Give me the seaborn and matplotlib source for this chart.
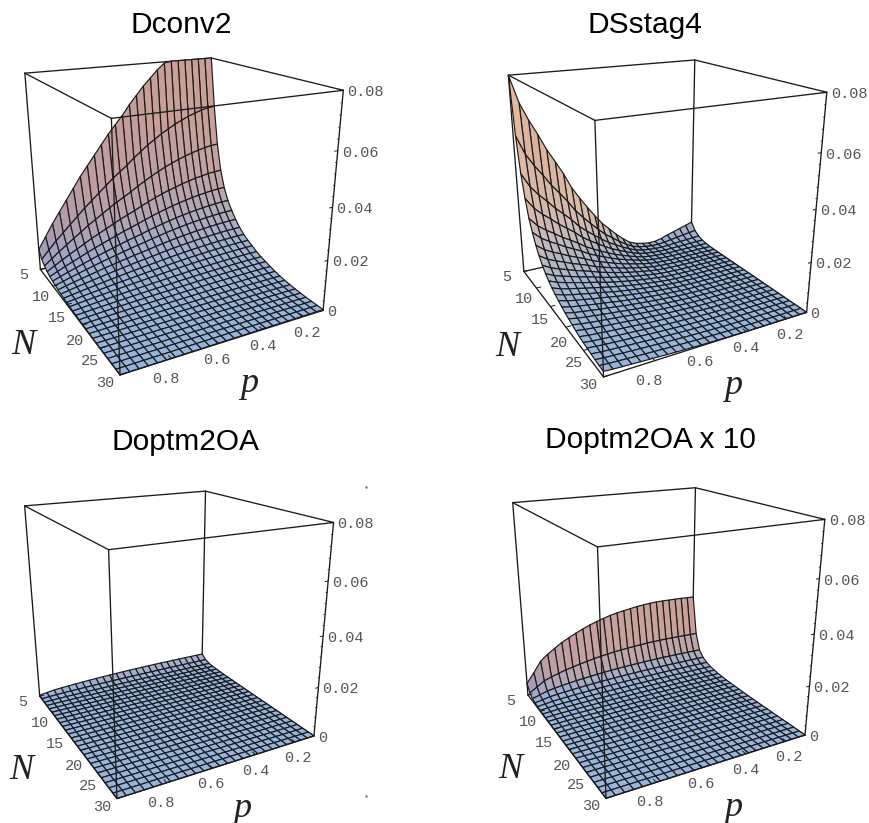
import numpy as np
import matplotlib
matplotlib.use("Agg")
import matplotlib.pyplot as plt
import seaborn as sns
from matplotlib.lines import Line2D
from mpl_toolkits.mplot3d import proj3d

W_PX, H_PX = 869, 823
ELEV, AZIM = 20, 61.6
ZMAX = 0.08

n_values = np.arange(5, 31)
p_values = np.linspace(1.0, 0.1, 26)   # from the front corner to the right corner
z_ticks = [0, 0.02, 0.04, 0.06, 0.08]
z_minor = [.004, .008, .012, .016, .024, .028, .032, .036, .044, .048, .052, .056, .064, .068, .072, .076]
z_tick_labels = ["0", "0.02", "0.04", "0.06", "0.08"]
p_ticks = [0.8, 0.6, 0.4, 0.2]
n_ticks = [5, 10, 15, 20, 25, 30]
# label nudges in pixels (x, y up)
p_nudge = [(-6, -20), (-2, -16), (0, -16), (3, -16)]
n_nudge = [(-17, -6), (-12, -11), (-10, -14), (-7, -16), (-10, -13), (-15, -8)]

# heights read along the N=5 edge (p = 1 .. 0.1)
dconv_at_n5 = [.009, .014, .019, .0235, .028, .0325, .037, .041, .045, .049, .053, .0565, .060,
               .064, .0675, .071, .074, .077, .0795, .082, .084, .086, .0875, .089, .09, .0905]
# heights read along the p=0.1 edge (N = 5 .. 30)
dconv_at_pmin = [.0905, .06, .044, .033, .026, .021, .0175, .0145, .012, .010, .0085, .0073, .006,
                 .005, .0042, .0034, .0027, .0021, .0017, .0013, .001, .0008, .0006, .0005, .0004, .0003]

dsstag_at_n5 = [.08, .0695, .0625, .0565, .050, .0446, .039, .0325, .0275, .0229, .0185, .0144, .0112,
                .008, .0052, .0028, .0015, .0008, .0003, 0, 0, 0, 0, 0, 0, 0]
dsstag_at_p1 = [.08, .058, .044, .035, .028, .0235, .0195, .0165, .014, .012, .0105, .0092, .0081,
                .0072, .0063, .0056, .005, .0044, .0039, .0034, .003, .0028, .0025, .0023, .0021, .002]
dsstag_bump_at_n5 = [0, 0, 0, 0, 0, 0, 0, 0, 0, 0, 0, 0, 0, 0, 0, 0, 0, 0, 0,
                     .0004, .0011, .0022, .0031, .0041, .005, .006]
dsstag_bump_at_pmin = [.006, .003, .0015, .0007, .0003, .0001, 0, 0, 0, 0, 0, 0, 0, 0, 0, 0, 0, 0, 0,
                       0, 0, 0, 0, 0, 0, 0]

doptm10_at_n5 = [.0053, .0095, .014, .0165, .0185, .0205, .022, .0235, .0248, .026, .027, .0279, .0287,
                 .0293, .0298, .0302, .0306, .0309, .0311, .0312, .0312, .0311, .031, .0309, .0307, .0306]
doptm10_at_pmin = [.0306, .0138, .0067, .0042, .0029, .0021, .0016, .0012, .001, .0008, .0007, .0006, .0005,
                   .0004, .00035, .0003, .00026, .00023, .0002, .00018, .00016, .00014, .00012, .0001, .00009, .00008]


def edges_to_grid(along_p, along_n):
    along_p = np.array(along_p)
    along_n = np.array(along_n)
    return np.outer(along_n, along_p) / along_n[0]


dconv = edges_to_grid(dconv_at_n5, np.array(dconv_at_pmin))
dsstag = edges_to_grid(dsstag_at_n5, dsstag_at_p1) + edges_to_grid(dsstag_bump_at_n5, dsstag_bump_at_pmin)
doptm10 = edges_to_grid(doptm10_at_n5, doptm10_at_pmin)
doptm = doptm10 / 10

panels = [
    dict(title="Dconv2", z=dconv, cx=168, cy=196, scale=1.0, tx=181, ty=25),
    dict(title="DSstag4", z=dsstag, cx=651.5, cy=198, scale=1.0, tx=645, ty=25),
    dict(title="Doptm2OA", z=doptm, cx=163.5, cy=625, scale=0.97, tx=185, ty=442),
    dict(title="Doptm2OA x 10", z=doptm10, cx=653, cy=623, scale=0.98, tx=650, ty=440),
]

sns.set_theme(style="white")
plt.rcParams["font.family"] = ["Liberation Sans", "DejaVu Sans"]

LINE = "#1a1a1a"
TICK_TEXT = "#555555"

# face colours: flat floor, steep faces by the way they lean
FLAT = np.array([150, 180, 220]) / 255
ROSY = np.array([203, 160, 150]) / 255
PEACH = np.array([232, 190, 160]) / 255
MAUVE = np.array([175, 145, 165]) / 255


def lit_colors(z):
    zn = np.clip(z, 0, ZMAX) / ZMAX
    dz_dn = (np.diff(zn, axis=0)[:, :-1] + np.diff(zn, axis=0)[:, 1:]) / 2 / (1 / 25)
    dz_dp = -(np.diff(zn, axis=1)[:-1, :] + np.diff(zn, axis=1)[1:, :]) / 2 / (1 / 25)
    n = np.dstack([-dz_dp, -dz_dn, np.ones_like(dz_dp)])
    n /= np.linalg.norm(n, axis=2, keepdims=True)
    lean = n[..., 0] / np.maximum(np.hypot(n[..., 0], n[..., 1]), 1e-6)
    to_peach = np.clip(-2 * lean, 0, 1)[..., None]
    to_mauve = np.clip(1.5 * lean, 0, 1)[..., None]
    steep = ROSY + to_peach * (PEACH - ROSY) + to_mauve * (MAUVE - ROSY)
    tilt = ((1 - n[..., 2]) ** 0.7)[..., None] * 1.1
    return np.clip(FLAT + np.minimum(tilt, 1) * (steep - FLAT), 0, 1)


def label3d(ax, x, y, z, text, dx, dy, **kw):
    px, py, _ = proj3d.proj_transform(x, y, z, ax.get_proj())
    ax.annotate(text, (px, py), xytext=(dx * 0.72, dy * 0.72), textcoords="offset points",
                xycoords="data", annotation_clip=False, **kw)


fig = plt.figure(figsize=(W_PX / 100, H_PX / 100), dpi=100, facecolor="white")

for panel in panels:
    size = 370 * panel["scale"]
    ax = fig.add_axes([(panel["cx"] - size / 2) / W_PX, 1 - (panel["cy"] + size / 2) / H_PX,
                       size / W_PX, size / H_PX], projection="3d", computed_zorder=False)
    ax.patch.set_alpha(0)
    ax.set_box_aspect((1, 1, 1))
    ax.set_proj_type("persp", focal_length=0.319)
    ax.view_init(elev=ELEV, azim=AZIM)
    ax.set_xlim(0.1, 1)
    ax.set_ylim(5, 30)
    ax.set_zlim(0, ZMAX)
    ax.set_axis_off()

    P, N = np.meshgrid(p_values, n_values)
    Z = np.minimum(panel["z"], ZMAX)
    ax.plot_surface(P, N, Z, facecolors=lit_colors(panel["z"]), rstride=1, cstride=1, shade=False,
                    linewidth=0.85, edgecolor=LINE, antialiased=True, zorder=2)

    # the box: back edges go under the surface
    for xs, ys, zs, order in [
        ([.1, .1], [5, 5], [0, ZMAX], 1),
        ([1, .1], [5, 5], [0, 0], 1),
        ([.1, .1], [5, 30], [0, 0], 1),
        ([1, .1], [5, 5], [ZMAX, ZMAX], 1),
        ([.1, .1], [5, 30], [ZMAX, ZMAX], 1),
        ([1, 1], [5, 5], [0, ZMAX], 3),
        ([.1, .1], [30, 30], [0, ZMAX], 3),
        ([1, 1], [30, 30], [0, ZMAX], 3),
        ([1, 1], [5, 30], [0, 0], 3),
        ([1, .1], [30, 30], [0, 0], 3),
        ([1, 1], [5, 30], [ZMAX, ZMAX], 3),
        ([1, .1], [30, 30], [ZMAX, ZMAX], 3),
    ]:
        ax.plot(xs, ys, zs, color=LINE, lw=0.95, zorder=order, solid_capstyle="round")

    for t in z_ticks:
        ax.plot([.1, .115], [30, 30], [t, t], color=LINE, lw=0.7, zorder=3)
    for t in z_minor:
        ax.plot([.1, .107], [30, 30], [t, t], color=LINE, lw=0.5, zorder=3)
    for t in p_ticks:
        ax.plot([t, t], [30, 29.4], [0, 0], color=LINE, lw=0.7, zorder=3)
    for t in n_ticks:
        ax.plot([1, .98], [t, t], [0, 0], color=LINE, lw=0.7, zorder=3)

    tick_kw = dict(family="Liberation Mono", fontsize=11, color=TICK_TEXT, va="center")
    for t, s in zip(z_ticks, z_tick_labels):
        label3d(ax, .1, 30, t, s, 4, -2, ha="left", **tick_kw)
    for t, (dx, dy) in zip(p_ticks, p_nudge):
        label3d(ax, t, 30, 0, f"{t:.1f}", dx, dy, ha="center", **tick_kw)
    for t, (dx, dy) in zip(n_ticks, n_nudge):
        label3d(ax, 1, t, 0, str(t), dx, dy, ha="center", **tick_kw)

    label3d(ax, 1, 20, 0, "N", -59, -20, family="Liberation Serif", style="italic", fontsize=26,
            color="#222222", ha="center", va="center")
    label3d(ax, .5, 30, 0, "p", 8, -47, family="Liberation Serif", style="italic", fontsize=26,
            color="#222222", ha="center", va="center")

    fig.text(panel["tx"] / W_PX, 1 - panel["ty"] / H_PX, panel["title"], fontsize=21.5, color="black",
             ha="center", va="center")

for y in [487, 796]:
    fig.add_artist(Line2D([366 / W_PX], [1 - y / H_PX], marker="o", ms=0.8, color="#777777", ls=""))

fig.savefig("out.png", dpi=100)
